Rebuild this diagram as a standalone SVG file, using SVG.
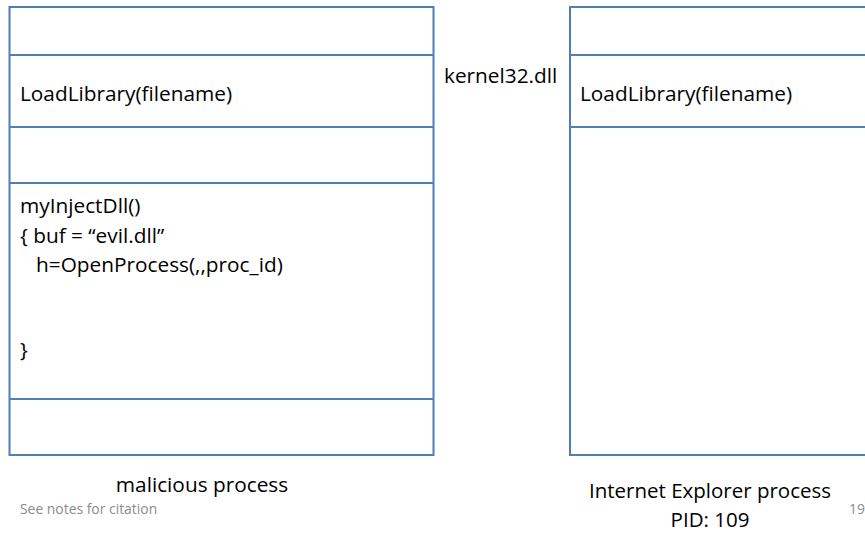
<svg xmlns="http://www.w3.org/2000/svg" width="865" height="538" viewBox="0 0 865 538">
<style>
.box{fill:#ffffff;stroke:#4f7db5;stroke-width:2}
.ln{stroke:#4f7db5;stroke-width:2}
.t{font-family:"Open Sans","Liberation Sans",Arial,sans-serif;font-size:20.8px;fill:#000}
.s{font-family:"Open Sans","Liberation Sans",Arial,sans-serif;font-size:13.9px;fill:#8c8c8c}
</style>
<rect width="865" height="538" fill="#ffffff"/>
<g id="malicious">
<rect class="box" x="9.5" y="7" width="424" height="448"/>
<line class="ln" x1="9.5" y1="55" x2="433.5" y2="55"/>
<line class="ln" x1="9.5" y1="127" x2="433.5" y2="127"/>
<line class="ln" x1="9.5" y1="183" x2="433.5" y2="183"/>
<line class="ln" x1="9.5" y1="399" x2="433.5" y2="399"/>
<text class="t" x="20" y="101">LoadLibrary(filename)</text>
<text class="t" x="20" y="213">myInjectDll()</text>
<text class="t" x="20" y="243">{ buf = “evil.dll”</text>
<text class="t" x="36" y="272">h=OpenProcess(,,proc_id)</text>
<text class="t" x="20" y="357">}</text>
<text class="t" x="202" y="492" text-anchor="middle">malicious process</text>
</g>
<g id="kernel32">
<text class="t" x="444" y="83">kernel32.dll</text>
</g>
<g id="iexplore">
<rect class="box" x="570" y="7" width="320" height="448"/>
<line class="ln" x1="570" y1="55" x2="890" y2="55"/>
<line class="ln" x1="570" y1="127" x2="890" y2="127"/>
<text class="t" x="710" y="498" text-anchor="middle" style="font-size:20.5px">Internet Explorer process</text>
<text class="t" x="710" y="527" text-anchor="middle" style="font-size:20.5px">PID: 109</text>
<text class="t" x="580" y="101">LoadLibrary(filename)</text>
</g>
<g id="connectors"></g>
<text class="s" x="20" y="514">See notes for citation</text>
<text class="s" x="849" y="514">19</text>
</svg>
